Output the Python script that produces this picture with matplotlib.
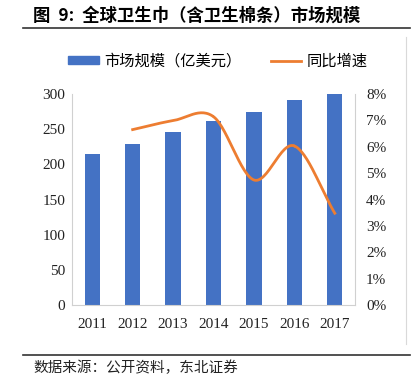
import numpy as np
import matplotlib
matplotlib.use("Agg")
import matplotlib.pyplot as plt
from matplotlib.lines import Line2D
from matplotlib.patches import Patch

plt.rcParams['font.family'] = ['Liberation Serif', 'Noto Sans CJK SC', 'DejaVu Sans']

years = ['2011', '2012', '2013', '2014', '2015', '2016', '2017']
market_size = [215, 229, 245.5, 262, 275, 291.5, 300.5]
growth_years = ['2012', '2013', '2014', '2015', '2016', '2017']
growth = [6.65, 6.99, 7.14, 4.74, 6.03, 3.48]


def catmull_rom(x, y, n=30):
    # smooth line through the points, like Excel's smoothed line
    x = np.asarray(x, float)
    y = np.asarray(y, float)
    px = np.concatenate([[2 * x[0] - x[1]], x, [2 * x[-1] - x[-2]]])
    py = np.concatenate([[2 * y[0] - y[1]], y, [2 * y[-1] - y[-2]]])
    xs, ys = [], []
    for i in range(1, len(px) - 2):
        t = np.linspace(0, 1, n)
        for p, out in ((px, xs), (py, ys)):
            p0, p1, p2, p3 = p[i - 1], p[i], p[i + 1], p[i + 2]
            out.append(0.5 * (2 * p1 + (-p0 + p2) * t
                              + (2 * p0 - 5 * p1 + 4 * p2 - p3) * t ** 2
                              + (-p0 + 3 * p1 - 3 * p2 + p3) * t ** 3))
    return np.concatenate(xs), np.concatenate(ys)


fig = plt.figure(figsize=(4.12, 3.85), dpi=100)
ax = fig.add_axes([72 / 412, 1 - 305 / 385, 283 / 412, 211 / 385])

xpos = np.arange(len(years))
ax.bar(xpos, market_size, width=0.38, color='#4472C4', zorder=2)
ax.set_xlim(-0.5, len(years) - 0.5)
ax.set_ylim(0, 300)
ax.set_yticks(range(0, 301, 50))
ax.set_xticks(xpos)
ax.set_xticklabels(years)
ax.tick_params(length=0, labelsize=11, colors='#222222', pad=5)
ax.tick_params(axis='x', pad=9)
for s in ['left', 'bottom', 'right']:
    ax.spines[s].set_color('#d0d0d0')
ax.spines['top'].set_visible(False)

ax2 = ax.twinx()
gx = [years.index(g) for g in growth_years]
sx, sy = catmull_rom(gx, growth)
ax2.plot(sx, sy, color='#ED7D31', lw=2, zorder=3)
ax2.set_ylim(0, 8)
ax2.set_yticks(range(0, 9))
ax2.set_yticklabels([f'{v}%' for v in range(0, 9)])
ax2.tick_params(length=0, labelsize=11, colors='#222222', pad=8)
for s in ax2.spines.values():
    s.set_visible(False)

handles = [Patch(color='#4472C4'), Line2D([], [], color='#ED7D31', lw=2)]
fig.legend(handles, ['市场规模（亿美元）', '同比增速'], loc='center',
           bbox_to_anchor=(218 / 412, 1 - 61 / 385), ncol=2, frameon=False,
           prop={'family': ['Noto Sans CJK SC'], 'size': 11},
           handlelength=2.0, handleheight=0.5, columnspacing=1.9, handletextpad=0.35)

fig.text(33 / 412, 1 - 16 / 385, '图  9:  全球卫生巾（含卫生棉条）市场规模', fontsize=12.5,
         fontweight='bold', family=['Noto Sans CJK SC'], va='center', ha='left')
fig.add_artist(Line2D([23 / 412, 410 / 412], [1 - 28 / 385] * 2, color='#333333', lw=1.2))
fig.add_artist(Line2D([23 / 412, 410 / 412], [1 - 355 / 385] * 2, color='#333333', lw=1.2))
fig.add_artist(Line2D([406 / 412, 406 / 412], [1 - 37 / 385, 1 - 344 / 385], color='#d9d9d9', lw=0.8))
fig.text(33 / 412, 1 - 368 / 385, '数据来源：公开资料，东北证券', fontsize=10.5,
         family=['Noto Sans CJK SC'], va='center', ha='left', color='#222222')

fig.savefig('out.png', dpi=100)
